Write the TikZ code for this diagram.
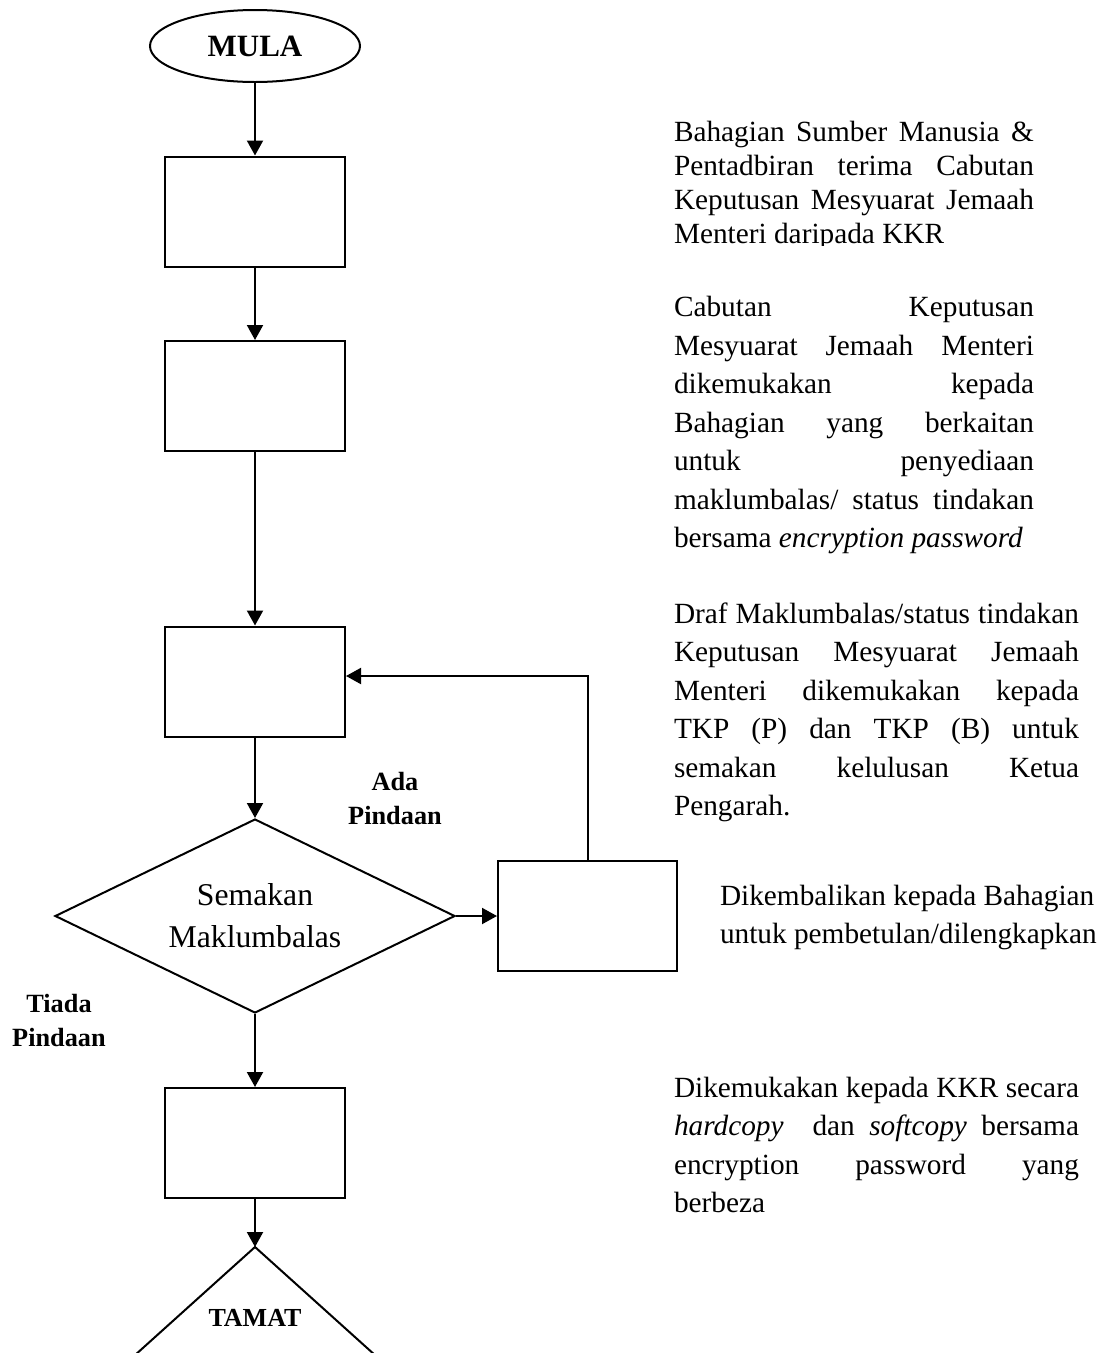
\documentclass[tikz,border=0pt]{standalone}
\usepackage{fontspec}
\setmainfont{Liberation Serif}
\usetikzlibrary{shapes.geometric,arrows.meta}
\newcommand{\jline}[2]{{\spaceskip=0pt\xspaceskip=0pt\makebox[#1][s]{#2}}}
\begin{document}
\begin{tikzpicture}[x=1pt,y=-1pt,
  line width=2pt,
  arr/.style={-{Triangle[length=15pt,width=16pt]}},
  procbox/.style={draw,rectangle,inner sep=0pt,minimum width=180pt,minimum height=110pt},
  body/.style={font=\fontsize{29.3}{38.5}\selectfont,inner sep=0pt,anchor=base west,align=justify},
  lbl/.style={font=\fontsize{26.3}{34}\selectfont\bfseries,align=center,inner sep=0pt}
]
\fill[white] (0,0) rectangle (1107,1353);
\useasboundingbox (0,0) rectangle (1107,1353);

% flow
\node[draw,ellipse,minimum width=210pt,minimum height=72pt,inner sep=0pt,
      font=\fontsize{31}{36}\selectfont\bfseries] (mula) at (255,46) {MULA};
\node[procbox] (b1) at (255,211.5) {};
\node[procbox] (b2) at (255,396) {};
\node[procbox] (b3) at (255,681.5) {};
\node[draw,diamond,aspect=2,minimum width=400pt,minimum height=194pt,inner sep=0pt,
      font=\fontsize{31.7}{42}\selectfont,align=center] (dec) at (255,916) {Semakan\\Maklumbalas};
\node[procbox,minimum width=179pt] (b4) at (587.5,916) {};
\node[procbox] (b5) at (255,1143) {};
\coordinate (apex) at (255,1247);
\draw (124,1365) -- (apex) -- (386,1365);
\node[font=\fontsize{26}{30}\selectfont\bfseries,inner sep=0pt] (tamat) at (255,1318) {TAMAT};

\draw[arr] (mula) -- (b1);
\draw[arr] (b1) -- (b2);
\draw[arr] (b2) -- (b3);
\draw[arr] (b3) -- (dec);
\draw[arr] (dec) -- (b5);
\draw[arr] (b5) -- (apex);
\draw[arr] (dec.east) -- (b4.west);
\draw[arr] (b4.north) |- ([yshift=5.5pt]b3.east);

\node[lbl] (ada) at (395,798.5) {Ada\\Pindaan};
\node[lbl] (tiada) at (59,1020.5) {Tiada\\Pindaan};

% descriptions
\begin{scope}
\clip (600,0) rectangle (1107,245);
\node[body,font=\fontsize{29.3}{34}\selectfont,text width=360pt] (t1) at (673,141)
  {\jline{360pt}{Bahagian Sumber Manusia \&}\\
   \jline{360pt}{Pentadbiran terima Cabutan}\\
   \jline{360pt}{Keputusan Mesyuarat Jemaah}\\
   Menteri daripada KKR};
\end{scope}

\node[body,text width=360pt] (t2) at (673,316.7)
  {\jline{360pt}{Cabutan Keputusan}\\
   \jline{360pt}{Mesyuarat Jemaah Menteri}\\
   \jline{360pt}{dikemukakan kepada}\\
   \jline{360pt}{Bahagian yang berkaitan}\\
   \jline{360pt}{untuk penyediaan}\\
   \jline{360pt}{maklumbalas/ status tindakan}\\
   bersama \emph{encryption password}};

\node[body,text width=405pt] (t3) at (673,623)
  {\jline{405pt}{Draf Maklumbalas/status tindakan}\\
   \jline{405pt}{Keputusan Mesyuarat Jemaah}\\
   \jline{405pt}{Menteri dikemukakan kepada}\\
   \jline{405pt}{TKP (P) dan TKP (B) untuk}\\
   \jline{405pt}{semakan kelulusan Ketua}\\
   Pengarah.};

\node[body,font=\fontsize{29.3}{38}\selectfont,text width=400pt] (t4) at (719,905)
  {Dikembalikan kepada Bahagian\\
   untuk pembetulan/dilengkapkan};

\node[body,text width=405pt] (t5) at (673,1097)
  {\jline{405pt}{Dikemukakan kepada KKR secara}\\
   \jline{405pt}{\emph{hardcopy}\ \ dan \emph{softcopy} bersama}\\
   \jline{405pt}{encryption password yang}\\
   berbeza};
\end{tikzpicture}
\end{document}
